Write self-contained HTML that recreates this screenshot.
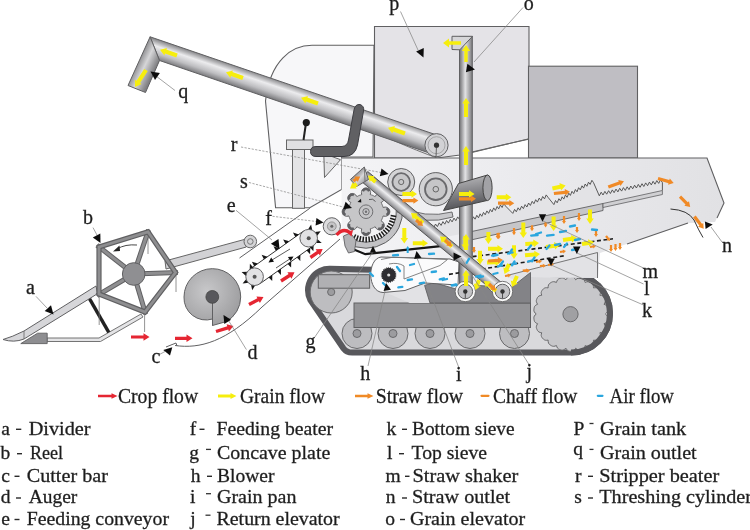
<!DOCTYPE html>
<html><head><meta charset="utf-8">
<style>
html,body{margin:0;padding:0;background:#fff;}
svg{display:block;}
text{font-family:"Liberation Serif",serif;fill:#1e1e1e;}
.tx{filter:url(#soft);}
</style></head>
<body>
<svg width="750" height="530" viewBox="0 0 750 530">
<defs>
<linearGradient id="gv" x1="0" y1="0" x2="1" y2="0">
<stop offset="0" stop-color="#6e6e70"/><stop offset="0.5" stop-color="#e6e6e8"/><stop offset="1" stop-color="#727274"/></linearGradient>
<linearGradient id="gd" gradientUnits="userSpaceOnUse" x1="436" y1="228" x2="445" y2="219">
<stop offset="0" stop-color="#6e6e70"/><stop offset="0.5" stop-color="#e0e0e2"/><stop offset="1" stop-color="#727274"/></linearGradient>
<linearGradient id="gdef" gradientUnits="userSpaceOnUse" x1="470" y1="212" x2="462" y2="180">
<stop offset="0" stop-color="#5e5e62"/><stop offset="0.5" stop-color="#a8a8ab"/><stop offset="1" stop-color="#6a6a6e"/></linearGradient>
<linearGradient id="gbody" gradientUnits="userSpaceOnUse" x1="340" y1="0" x2="725" y2="0">
<stop offset="0" stop-color="#f4f4f6"/><stop offset="0.35" stop-color="#ededf0"/><stop offset="1" stop-color="#e1e1e4"/></linearGradient>
<radialGradient id="gaug" cx="0.4" cy="0.4" r="0.7">
<stop offset="0" stop-color="#c8c8ca"/><stop offset="1" stop-color="#9a9a9c"/></radialGradient>
<filter id="soft" x="-5%" y="-5%" width="110%" height="110%"><feGaussianBlur stdDeviation="0.3"/></filter>
<filter id="allsoft" x="0" y="0" width="100%" height="100%" filterUnits="userSpaceOnUse"><feGaussianBlur stdDeviation="0.5"/></filter>
<linearGradient id="gq" gradientUnits="userSpaceOnUse" x1="150.1" y1="36.8" x2="143.9" y2="55.2"><stop offset="0" stop-color="#828285"/><stop offset="0.35" stop-color="#ececee"/><stop offset="0.72" stop-color="#bebec1"/><stop offset="1" stop-color="#7e7e81"/></linearGradient>
<linearGradient id="gqe" gradientUnits="userSpaceOnUse" x1="133" y1="66" x2="152" y2="75"><stop offset="0" stop-color="#747477"/><stop offset="0.5" stop-color="#d6d6d8"/><stop offset="1" stop-color="#808083"/></linearGradient>
<linearGradient id="gvo" x1="0" y1="0" x2="1" y2="0"><stop offset="0" stop-color="#707073"/><stop offset="0.45" stop-color="#e2e2e4"/><stop offset="1" stop-color="#7a7a7d"/></linearGradient>
</defs>
<g filter="url(#allsoft)">
<!-- ============ CAB ============ -->
<path d="M374 45.3 L312 45.3 C292 45.3 270 60 265.5 101 L275.6 207.8 L309.8 207.8 L341.6 189.5 L341.6 157 L373 157 Z" fill="#f7f7f9" stroke="#606062" stroke-width="1.1"/>
<!-- console -->
<rect x="292.5" y="149.5" width="12" height="58.8" fill="#e4e4e6" stroke="#666" stroke-width="1"/>
<rect x="286.5" y="140" width="26.5" height="9.5" fill="#e0e0e2" stroke="#666" stroke-width="1"/>
<line x1="306" y1="123" x2="303.5" y2="140" stroke="#222" stroke-width="2"/>
<circle cx="306.3" cy="122.6" r="3.6" fill="#1a1a1a"/>

<!-- ============ GRAIN TANK & ENGINE ============ -->
<path d="M374.5 26.5 L529 26.5 L529 139 L472 152 L460 155 L437 158 L374.5 158 Z" fill="#e4e3e7" stroke="#606062" stroke-width="1.1"/>
<path d="M472 152.5 L528 139" stroke="#666" stroke-width="1" fill="none"/>
<rect x="528.5" y="66.2" width="109" height="91.8" fill="#bfbec3" stroke="#606062" stroke-width="1.1"/>




<path d="M390 139 Q420 152 436 157.5" fill="none" stroke="#666" stroke-width="0.9"/>
<path d="M150.1 36.8 L439.6 136 L433.4 154.4 L159.5 60.5 Z" fill="url(#gq)" stroke="#606062" stroke-width="1"/>
<path d="M150.1 36.8 L159.5 60.5 L145.5 92.5 L128 85.5 Z" fill="url(#gqe)" stroke="#606062" stroke-width="1"/>
<circle cx="436.5" cy="145.2" r="11.6" fill="#d2d2d5" stroke="#606062" stroke-width="1"/>
<circle cx="436.5" cy="145.2" r="8.5" fill="none" stroke="#9a9a9c" stroke-width="0.8"/>
<line x1="436.5" y1="145.2" x2="436" y2="157.5" stroke="#444" stroke-width="0.8"/>
<circle cx="436.5" cy="145.2" r="2.6" fill="#333"/>
<path d="M144.2 68.9 L136.5 80.8 L134.9 79.8 L135 87 L141.6 84.1 L140 83.1 L147.8 71.1 Z" fill="#f6ee10"/>
<path d="M177.7 53.5 L166.4 49.6 L167 47.9 L160 49.7 L164.4 55.4 L165 53.6 L176.3 57.5 Z" fill="#f6ee10"/>
<path d="M243.7 76 L232.4 72.1 L233 70.4 L226 72.2 L230.4 77.9 L231 76.1 L242.3 80 Z" fill="#f6ee10"/>
<path d="M318.7 101.5 L307.4 97.6 L308 95.9 L301 97.7 L305.4 103.4 L306 101.6 L317.3 105.5 Z" fill="#f6ee10"/>
<path d="M405.7 131.5 L394.4 127.6 L395 125.9 L388 127.7 L392.4 133.4 L393 131.6 L404.3 135.5 Z" fill="#f6ee10"/>
<!-- seat -->
<path d="M323.8 153.5 L340.5 159.7 L324.5 177.5 Z" fill="#e2e2e4" stroke="#666" stroke-width="1"/>
<path d="M354 110 Q355 104 360 104.5 Q364.5 106 363.5 111 L357.5 145 Q355 156.5 344 156.5 L316 156.5 Q310.5 156.5 310.5 151.5 Q310.5 146.5 316 146.5 L342 146.5 Q347.5 146 348.5 140 Z" fill="#606064" stroke="#3e3e42" stroke-width="1"/>


<!-- ============ HEADER ============ -->
<!-- reel arm -->
<path d="M165 261 L244.6 239.4 L246.3 247 L166 269 Z" fill="#d2d2d5" stroke="#666" stroke-width="1"/>
<circle cx="250.3" cy="241.5" r="6.3" fill="#d4d4d6" stroke="#666" stroke-width="1"/>
<circle cx="250.3" cy="241.5" r="2.8" fill="none" stroke="#777" stroke-width="1"/>
<!-- header floor bar -->
<path d="M47 338 L99 338 L141 314 L143 317 L100.5 341.5 L47 341.5 Z" fill="#e4e4e6" stroke="#666" stroke-width="0.9"/>
<!-- divider -->
<path d="M3 339.5 Q12 337 24 331 L96 286 L97.5 293.7 L24 339 Q14 343 3 339.5 Z" fill="#d6d6d9" stroke="#606062" stroke-width="1"/>
<line x1="24" y1="331" x2="24" y2="339" stroke="#666" stroke-width="0.8"/>
<path d="M37.6 333.2 L47.2 333.2 L47.2 343.6 L20.8 343.6 Z" fill="#8e8e91" stroke="#606062" stroke-width="0.9"/>
<line x1="89.6" y1="298.8" x2="108.8" y2="332.4" stroke="#222" stroke-width="3.4"/>
<!-- tines -->
<g stroke="#777" stroke-width="0.8">
<line x1="99.2" y1="296" x2="99.2" y2="325"/>
<line x1="148" y1="232" x2="148" y2="254"/>
<line x1="176" y1="273" x2="176" y2="292"/>
<line x1="144.6" y1="314" x2="144.6" y2="332"/>
</g>
<!-- reel spokes -->
<g stroke="#606062" stroke-width="5" stroke-linecap="butt">
<line x1="133.7" y1="274" x2="97" y2="245.3"/><line x1="133.7" y1="274" x2="148.6" y2="229.9"/><line x1="133.7" y1="274" x2="177.8" y2="272.5"/><line x1="133.7" y1="274" x2="145.7" y2="314.1"/><line x1="133.7" y1="274" x2="97" y2="295.6"/>
</g>
<g stroke="#8e8e90" stroke-width="3" stroke-linecap="butt">
<line x1="133.7" y1="274" x2="97" y2="245.3"/><line x1="133.7" y1="274" x2="148.6" y2="229.9"/><line x1="133.7" y1="274" x2="177.8" y2="272.5"/><line x1="133.7" y1="274" x2="145.7" y2="314.1"/><line x1="133.7" y1="274" x2="97" y2="295.6"/>
</g>
<path d="M99 247 L148 231.8 L175.5 272.5 L145 312 L99 294 Z" fill="none" stroke="#606062" stroke-width="5.2" stroke-linejoin="miter"/>
<path d="M99 247 L148 231.8 L175.5 272.5 L145 312 L99 294 Z" fill="none" stroke="#8e8e90" stroke-width="2.8" stroke-linejoin="miter"/>
<circle cx="133.7" cy="274" r="11.3" fill="#8f8f92" stroke="#606062" stroke-width="1"/>
<path d="M137 245 Q125 244 117 249" fill="none" stroke="#333" stroke-width="0.9"/>
<path d="M113 251.5 L119.5 245.5 L120 251 Z" fill="#222"/>
<!-- auger -->
<path d="M212.5 319 A22 22 0 0 1 184 297 A28.3 28.3 0 0 1 240.7 297 A28.3 28.3 0 0 1 226.5 321.5 L212.5 325.5 Z" fill="url(#gaug)" stroke="#606062" stroke-width="1"/>
<line x1="212.5" y1="297" x2="212.5" y2="325.5" stroke="#606062" stroke-width="1"/>
<circle cx="212.3" cy="296.9" r="6.4" fill="#59595c" stroke="#444" stroke-width="0.8"/>
<!-- header floor curve -->
<path d="M175 345.5 C200 349 226 342 262 307 L340 239" fill="none" stroke="#606062" stroke-width="1"/>
<path d="M166 347 L176 343 L177 346" fill="none" stroke="#606062" stroke-width="1"/>


<line x1="239.5" y1="258" x2="309.8" y2="208.3" stroke="#606062" stroke-width="1"/>
<line x1="249.5" y1="269.5" x2="303.6" y2="231.0" stroke="#333" stroke-width="1"/>
<line x1="259.7" y1="283.9" x2="313.8" y2="245.4" stroke="#333" stroke-width="1"/>
<path d="M254.2 266.2 L251.9 261.7 L257.8 263.6 Z" fill="#151515"/>
<path d="M263.9 259.3 L261.6 254.8 L267.5 256.7 Z" fill="#151515"/>
<path d="M275.8 250.8 L273.5 246.3 L279.4 248.2 Z" fill="#151515"/>
<path d="M285.6 243.9 L283.2 239.4 L289.2 241.3 Z" fill="#151515"/>
<path d="M295.3 236.9 L293 232.4 L298.9 234.4 Z" fill="#151515"/>
<path d="M268.7 277.4 L272.2 281.1 L272.3 274.9 Z" fill="#151515"/>
<path d="M277.4 271.3 L280.9 275 L281 268.7 Z" fill="#151515"/>
<path d="M287.7 264 L291.1 267.6 L291.2 261.4 Z" fill="#151515"/>
<path d="M296.9 257.4 L300.3 261.1 L300.4 254.9 Z" fill="#151515"/>
<path d="M306.6 250.5 L310.1 254.2 L310.2 247.9 Z" fill="#151515"/>
<path d="M246.3 278.9 L242.6 283.6 L248.5 282.8 Z" fill="#151515"/>
<path d="M247.6 271.8 L241.6 272 L246 275.9 Z" fill="#151515"/>
<path d="M253.8 268.1 L249.9 263.7 L249.7 269.7 Z" fill="#151515"/>
<path d="M251 284.5 L252.2 290.3 L255.3 285.3 Z" fill="#151515"/>
<path d="M312.3 230.4 L311.1 224.6 L308 229.6 Z" fill="#151515"/>
<path d="M317 236 L320.7 231.3 L314.8 232.1 Z" fill="#151515"/>
<path d="M315.7 243.1 L321.7 242.9 L317.3 239 Z" fill="#151515"/>
<path d="M309.5 246.8 L313.4 251.2 L313.6 245.2 Z" fill="#151515"/>
<circle cx="254.6" cy="276.7" r="8.8" fill="#e2e2e4" stroke="#606062" stroke-width="1"/>
<circle cx="254.6" cy="276.7" r="2" fill="#555"/>
<circle cx="308.7" cy="238.2" r="8.8" fill="#e2e2e4" stroke="#606062" stroke-width="1"/>
<circle cx="308.7" cy="238.2" r="2" fill="#555"/>
<line x1="272" y1="260" x2="290" y2="249" stroke="#333" stroke-width="0.8"/>
<path d="M268.5 262.5 L271.2 257.6 L274 261.8 Z" fill="#111"/>
<line x1="276" y1="268" x2="292" y2="257.5" stroke="#333" stroke-width="0.8"/>
<path d="M293.5 256.5 L290.7 261.3 L287.9 257.1 Z" fill="#111"/>
<circle cx="331.8" cy="226.3" r="8.6" fill="#dcdcde" stroke="#606062" stroke-width="1"/>
<circle cx="331.8" cy="226.3" r="4.4" fill="#c4c4c6" stroke="#888" stroke-width="0.8"/>
<circle cx="331.8" cy="226.3" r="1.5" fill="#666"/>
<!-- ============ TRACKS ============ -->
<path d="M330 268.8 L571 274.5 A39 39 0 0 1 571 352.5 L352 352.5 Q346.5 352.5 343.5 348.5 L310.3 300 A21.5 21.5 0 0 1 330 268.8 Z" fill="#d9d9dc" stroke="#58585c" stroke-width="6"/>
<g fill="#bdbdc0" stroke="#6a6a6c" stroke-width="1">
<circle cx="331.2" cy="292" r="21"/>
<circle cx="357" cy="333.5" r="15"/><circle cx="393" cy="333.5" r="15"/><circle cx="430" cy="333.5" r="15"/><circle cx="470" cy="333.5" r="15"/><circle cx="514.5" cy="333.5" r="15"/>
</g>
<g fill="#9c9c9f" stroke="#6a6a6c" stroke-width="1">
<circle cx="331.2" cy="292" r="3.6"/>
<circle cx="357" cy="333.5" r="4"/><circle cx="393" cy="333.5" r="4"/><circle cx="430" cy="333.5" r="4"/><circle cx="470" cy="333.5" r="4"/><circle cx="514.5" cy="333.5" r="4"/>
</g>
<rect x="318.3" y="274.7" width="51.3" height="13.5" fill="#b0b0b3" stroke="#606062" stroke-width="1"/>
<rect x="354" y="303" width="176.5" height="24.5" fill="#949497" stroke="#606062" stroke-width="1"/>
<path fill="#c7c7ca" stroke="#6a6a6c" stroke-width="1" d="M605.4 314.0 L606.5 315.0 L607.3 316.1 L607.7 317.2 L607.7 318.2 L607.6 319.3 L607.4 320.3 L607.1 321.4 L606.4 322.3 L605.4 323.1 L604.0 323.7 L604.8 325.1 L605.2 326.3 L605.3 327.4 L605.0 328.5 L604.6 329.5 L604.2 330.4 L603.5 331.3 L602.6 332.0 L601.4 332.5 L599.9 332.7 L600.3 334.2 L600.4 335.5 L600.1 336.6 L599.6 337.5 L598.9 338.4 L598.2 339.1 L597.3 339.8 L596.3 340.2 L595.0 340.3 L593.5 340.1 L593.4 341.7 L593.1 343.0 L592.6 343.9 L591.8 344.7 L590.9 345.3 L590.0 345.8 L589.0 346.2 L587.9 346.3 L586.6 346.1 L585.2 345.5 L584.7 346.9 L584.1 348.1 L583.2 348.9 L582.3 349.4 L581.3 349.7 L580.3 350.0 L579.2 350.1 L578.1 349.8 L576.9 349.2 L575.7 348.2 L574.9 349.5 L573.9 350.4 L572.9 351.0 L571.9 351.2 L570.8 351.2 L569.7 351.2 L568.7 351.0 L567.7 350.4 L566.7 349.5 L565.9 348.2 L564.7 349.2 L563.5 349.8 L562.4 350.1 L561.3 350.0 L560.3 349.7 L559.3 349.4 L558.4 348.9 L557.5 348.1 L556.9 346.9 L556.4 345.5 L555.0 346.1 L553.7 346.3 L552.6 346.2 L551.6 345.8 L550.7 345.3 L549.8 344.7 L549.0 343.9 L548.5 343.0 L548.2 341.7 L548.1 340.1 L546.6 340.3 L545.3 340.2 L544.3 339.8 L543.4 339.1 L542.7 338.4 L542.0 337.5 L541.5 336.6 L541.2 335.5 L541.3 334.2 L541.7 332.7 L540.2 332.5 L539.0 332.0 L538.1 331.3 L537.4 330.4 L537.0 329.5 L536.6 328.5 L536.3 327.4 L536.4 326.3 L536.8 325.1 L537.6 323.7 L536.2 323.1 L535.2 322.3 L534.5 321.4 L534.2 320.3 L534.0 319.3 L533.9 318.2 L533.9 317.2 L534.3 316.1 L535.1 315.0 L536.2 314.0 L535.1 313.0 L534.3 311.9 L533.9 310.8 L533.9 309.8 L534.0 308.7 L534.2 307.7 L534.5 306.6 L535.2 305.7 L536.2 304.9 L537.6 304.3 L536.8 302.9 L536.4 301.7 L536.3 300.6 L536.6 299.5 L537.0 298.5 L537.4 297.6 L538.1 296.7 L539.0 296.0 L540.2 295.5 L541.7 295.3 L541.3 293.8 L541.2 292.5 L541.5 291.4 L542.0 290.5 L542.7 289.6 L543.4 288.9 L544.3 288.2 L545.3 287.8 L546.6 287.7 L548.1 287.9 L548.2 286.3 L548.5 285.0 L549.0 284.1 L549.8 283.3 L550.7 282.7 L551.6 282.2 L552.6 281.8 L553.7 281.7 L555.0 281.9 L556.4 282.5 L556.9 281.1 L557.5 279.9 L558.4 279.1 L559.3 278.6 L560.3 278.3 L561.3 278.0 L562.4 277.9 L563.5 278.2 L564.7 278.8 L565.9 279.8 L566.7 278.5 L567.7 277.6 L568.7 277.0 L569.7 276.8 L570.8 276.8 L571.9 276.8 L572.9 277.0 L573.9 277.6 L574.9 278.5 L575.7 279.8 L576.9 278.8 L578.1 278.2 L579.2 277.9 L580.3 278.0 L581.3 278.3 L582.3 278.6 L583.2 279.1 L584.1 279.9 L584.7 281.1 L585.2 282.5 L586.6 281.9 L587.9 281.7 L589.0 281.8 L590.0 282.2 L590.9 282.7 L591.8 283.3 L592.6 284.1 L593.1 285.0 L593.4 286.3 L593.5 287.9 L595.0 287.7 L596.3 287.8 L597.3 288.2 L598.2 288.9 L598.9 289.6 L599.6 290.5 L600.1 291.4 L600.4 292.5 L600.3 293.8 L599.9 295.3 L601.4 295.5 L602.6 296.0 L603.5 296.7 L604.2 297.6 L604.6 298.5 L605.0 299.5 L605.3 300.6 L605.2 301.7 L604.8 302.9 L604.0 304.3 L605.4 304.9 L606.4 305.7 L607.1 306.6 L607.4 307.7 L607.6 308.7 L607.7 309.8 L607.7 310.8 L607.3 311.9 L606.5 313.0 Z"/>
<path d="M571 274.5 A39 39 0 0 1 571 352.5" fill="none" stroke="#58585c" stroke-width="6"/>
<circle cx="570.5" cy="314.2" r="7.6" fill="#a0a0a3" stroke="#6a6a6c" stroke-width="1"/>


<!-- ============ MAIN BODY ============ -->
<path d="M341.6 158 L707 158 L724 203 L715 222 L689 223 L600 253 L598 278 L530.5 277 L530.5 303 L410 303 L400 292 L375 262 L341.6 240 Z" fill="url(#gbody)" stroke="none"/>
<path d="M341.6 158 L707 158 L724 203 L717 218 M688 223 L627 244" fill="none" stroke="#606062" stroke-width="1.1"/>

<path d="M430 229 L431.8 225.2 L433.7 227.8 L435.5 224 L437.4 226.6 L439.2 222.8 L441.1 225.4 L442.9 221.6 L444.8 224.2 L446.6 220.5 L448.4 223.1 L450.3 219.3 L452.1 221.9 L454 218.1 L455.8 220.7 L457.7 216.9 L459.5 219.5 L471.7 220.7 L473.4 216.8 L475.1 219.2 L476.8 215.3 L478.5 217.8 L480.1 213.8 L481.8 216.3 L483.5 212.4 L485.2 214.8 L486.9 210.9 L488.6 213.3 L490.3 209.4 L492 211.9 L493.7 207.9 L495.4 210.4 L497.1 206.5 L498.7 208.9 L500.4 205 L502.1 207.5 L503.8 203.5 L505.5 206 L512.8 213.4 L514.6 209.4 L516.3 211.8 L518.1 207.8 L519.8 210.2 L521.6 206.2 L523.4 208.6 L525.1 204.6 L526.9 207 L528.6 203 L530.4 205.4 L532.2 201.3 L533.9 203.7 L535.7 199.7 L537.4 202.1 L539.2 198.1 L541 200.5 L542.7 196.5 L544.5 198.9 L546.2 194.9 L548 197.3 L553.9 204.6 L555.5 200.5 L557.2 202.8 L558.9 198.7 L560.5 200.9 L562.1 196.8 L563.8 199.1 L565.4 195 L567.1 197.3 L568.8 193.2 L570.4 195.4 L572 191.3 L573.7 193.6 L575.4 189.5 L577 191.8 L578.6 187.7 L580.3 189.9 L582 185.8 L583.6 188.1 L585.2 184 L586.9 186.3 L588.5 182.2 L590.2 184.4 L591.9 180.3 L593.5 182.6 L599.3 195.8 L601.2 192.2 L603 195 L604.9 191.4 L606.7 194.2 L608.6 190.7 L610.4 193.5 L612.3 189.9 L614.1 192.7 L616 189.1 L617.9 191.9 L619.7 188.3 L621.6 191.1 L623.4 187.6 L625.3 190.4 L627.1 186.8 L629 189.6 L630.8 186 L632.7 188.8 L634.6 185.2 L636.4 188 L638.3 184.4 L640.1 187.3 L642 183.7 L643.8 186.5 L645.7 182.9 L647.6 185.7 L649.4 182.1 L651.3 184.9 L653.1 181.3 L655 184.2 L656.8 180.6 L658.7 183.4 L660.5 179.8 L662.4 182.6 L662.4 190.5 L662.4 193 L471.7 232 L430 240 Z" fill="#e3e3e6" stroke="none"/>
<path d="M430.0 229.0 L431.8 225.2 L433.7 227.8 L435.5 224.0 L437.4 226.6 L439.2 222.8 L441.1 225.4 L442.9 221.6 L444.8 224.2 L446.6 220.5 L448.4 223.1 L450.3 219.3 L452.1 221.9 L454.0 218.1 L455.8 220.7 L457.7 216.9 L459.5 219.5 L471.7 220.7 L473.4 216.8 L475.1 219.2 L476.8 215.3 L478.5 217.8 L480.1 213.8 L481.8 216.3 L483.5 212.4 L485.2 214.8 L486.9 210.9 L488.6 213.3 L490.3 209.4 L492.0 211.9 L493.7 207.9 L495.4 210.4 L497.1 206.5 L498.7 208.9 L500.4 205.0 L502.1 207.5 L503.8 203.5 L505.5 206.0 L512.8 213.4 L514.6 209.4 L516.3 211.8 L518.1 207.8 L519.8 210.2 L521.6 206.2 L523.4 208.6 L525.1 204.6 L526.9 207.0 L528.6 203.0 L530.4 205.4 L532.2 201.3 L533.9 203.7 L535.7 199.7 L537.4 202.1 L539.2 198.1 L541.0 200.5 L542.7 196.5 L544.5 198.9 L546.2 194.9 L548.0 197.3 L553.9 204.6 L555.5 200.5 L557.2 202.8 L558.9 198.7 L560.5 200.9 L562.1 196.8 L563.8 199.1 L565.4 195.0 L567.1 197.3 L568.8 193.2 L570.4 195.4 L572.0 191.3 L573.7 193.6 L575.4 189.5 L577.0 191.8 L578.6 187.7 L580.3 189.9 L582.0 185.8 L583.6 188.1 L585.2 184.0 L586.9 186.3 L588.5 182.2 L590.2 184.4 L591.9 180.3 L593.5 182.6 L599.3 195.8 L601.2 192.2 L603.0 195.0 L604.9 191.4 L606.7 194.2 L608.6 190.7 L610.4 193.5 L612.3 189.9 L614.1 192.7 L616.0 189.1 L617.9 191.9 L619.7 188.3 L621.6 191.1 L623.4 187.6 L625.3 190.4 L627.1 186.8 L629.0 189.6 L630.8 186.0 L632.7 188.8 L634.6 185.2 L636.4 188.0 L638.3 184.4 L640.1 187.3 L642.0 183.7 L643.8 186.5 L645.7 182.9 L647.6 185.7 L649.4 182.1 L651.3 184.9 L653.1 181.3 L655.0 184.2 L656.8 180.6 L658.7 183.4 L660.5 179.8 L662.4 182.6 L662.4 190.5" fill="none" stroke="#4a4a4a" stroke-width="0.9"/>
<path d="M471.7 231.5 L603 203.5 L603 210.5 L471.7 239.8 Z" fill="#c6c6c9" stroke="#606062" stroke-width="0.9"/>
<path d="M603 203.5 L662.4 190.5 L662.4 194.5 L603 207.5 Z" fill="#d0d0d3" stroke="#606062" stroke-width="0.8"/>
<path d="M670.5 209 Q688 210 694 220 Q699 231 703 237.5" fill="none" stroke="#333" stroke-width="1"/>
<path d="M380 290 L426 283 L432 303 L410 303 Z" fill="#e2e2e5" stroke="none"/>
<path d="M505 276.5 L597.5 252.5 L598 278 L530.5 277 L530.5 285 Z" fill="#e2e2e5" stroke="none"/>
<path d="M424.6 285.4 L434.2 282.6 L456 289 L462 301 L472 290 L479 285.5 L486 286 L499 299 L512 287 L530.5 272.5 L530.5 303 L430 303 Z" fill="#838387" stroke="#606062" stroke-width="0.9"/>
<path d="M381 257 C367 259 367 292 383 292.5 L405 290.5 L425 283 L458 285 L459 262 L450 259 Z" fill="#fbfbfc" stroke="#606062" stroke-width="1"/>
<path d="M381 259.5 Q392 256 405 257.5 L447.5 259.5 L440 265.5 L404 279 L404 266 Q398 262 389 264" fill="none" stroke="#777" stroke-width="0.9"/>
<path d="M396.9 275 L395.7 275.6 L395.6 276.2 L396.6 277.1 L395.3 277.4 L395 278 L395.8 279.1 L394.4 279 L394.1 279.5 L394.5 280.8 L393.2 280.4 L392.7 280.7 L392.8 282.1 L391.7 281.3 L391.1 281.6 L390.8 282.9 L389.9 281.9 L389.3 282 L388.7 283.2 L388.1 282 L387.5 281.9 L386.6 282.9 L386.3 281.6 L385.7 281.3 L384.6 282.1 L384.7 280.7 L384.2 280.4 L382.9 280.8 L383.3 279.5 L383 279 L381.6 279.1 L382.4 278 L382.1 277.4 L380.8 277.1 L381.8 276.2 L381.7 275.6 L380.5 275 L381.7 274.4 L381.8 273.8 L380.8 272.9 L382.1 272.6 L382.4 272 L381.6 270.9 L383 271 L383.3 270.5 L382.9 269.2 L384.2 269.6 L384.7 269.3 L384.6 267.9 L385.7 268.7 L386.3 268.4 L386.6 267.1 L387.5 268.1 L388.1 268 L388.7 266.8 L389.3 268 L389.9 268.1 L390.8 267.1 L391.1 268.4 L391.7 268.7 L392.8 267.9 L392.7 269.3 L393.2 269.6 L394.5 269.2 L394.1 270.5 L394.4 271 L395.8 270.9 L395 272 L395.3 272.6 L396.6 272.9 L395.6 273.8 L395.7 274.4 Z" fill="#2e2e30"/>
<circle cx="388.7" cy="275" r="1.6" fill="#ddd"/>
<path d="M505 276 L597.5 252.5 L597.5 278" fill="none" stroke="#666" stroke-width="0.9"/>
<line x1="466" y1="257.5" x2="613" y2="238.8" stroke="#1a1a1a" stroke-width="1.6" stroke-dasharray="4 2.6"/>
<line x1="449" y1="274.4" x2="566" y2="255.5" stroke="#1a1a1a" stroke-width="1.6" stroke-dasharray="4 2.6"/>
<path d="M353.9 249.4 L365.3 254.2 L443 245.9" fill="none" stroke="#141414" stroke-width="2.2"/>
<path d="M402.3 207.9 A36.5 36.5 0 0 1 346.7 242.7 L349.8 237.6 A30.5 30.5 0 0 0 396.3 208.5 Z" fill="#c2c2c5" stroke="#606062" stroke-width="1"/>
<line x1="390.7" y1="215.6" x2="396.1" y2="216.5" stroke="#1a1a1a" stroke-width="1.5"/>
<line x1="390.1" y1="218.3" x2="395.4" y2="219.7" stroke="#1a1a1a" stroke-width="1.5"/>
<line x1="389.3" y1="220.8" x2="394.4" y2="222.8" stroke="#1a1a1a" stroke-width="1.5"/>
<line x1="388.2" y1="223.3" x2="393.0" y2="225.8" stroke="#1a1a1a" stroke-width="1.5"/>
<line x1="386.8" y1="225.6" x2="391.3" y2="228.7" stroke="#1a1a1a" stroke-width="1.5"/>
<line x1="385.2" y1="227.8" x2="389.4" y2="231.3" stroke="#1a1a1a" stroke-width="1.5"/>
<line x1="383.3" y1="229.7" x2="387.1" y2="233.7" stroke="#1a1a1a" stroke-width="1.5"/>
<line x1="381.3" y1="231.5" x2="384.6" y2="235.9" stroke="#1a1a1a" stroke-width="1.5"/>
<line x1="379.0" y1="233.0" x2="381.9" y2="237.7" stroke="#1a1a1a" stroke-width="1.5"/>
<line x1="376.6" y1="234.3" x2="379.0" y2="239.3" stroke="#1a1a1a" stroke-width="1.5"/>
<line x1="374.1" y1="235.3" x2="375.9" y2="240.5" stroke="#1a1a1a" stroke-width="1.5"/>
<line x1="371.5" y1="236.1" x2="372.8" y2="241.4" stroke="#1a1a1a" stroke-width="1.5"/>
<line x1="368.9" y1="236.5" x2="369.5" y2="242.0" stroke="#1a1a1a" stroke-width="1.5"/>
<line x1="366.2" y1="236.7" x2="366.2" y2="242.2" stroke="#1a1a1a" stroke-width="1.5"/>
<line x1="363.5" y1="236.6" x2="362.9" y2="242.0" stroke="#1a1a1a" stroke-width="1.5"/>
<line x1="360.8" y1="236.2" x2="359.7" y2="241.5" stroke="#1a1a1a" stroke-width="1.5"/>
<line x1="358.2" y1="235.4" x2="356.5" y2="240.7" stroke="#1a1a1a" stroke-width="1.5"/>
<line x1="355.7" y1="234.5" x2="353.4" y2="239.5" stroke="#1a1a1a" stroke-width="1.5"/>
<path d="M343.5 236 L350.5 233 L356 240.5 L354.5 251.5 L348.5 253 L345 246 Z" fill="#b4b4b7" stroke="#606062" stroke-width="0.9"/>
<path d="M389.8 211.7 L389.8 211.9 L389.8 212.1 L389.8 212.3 L389.7 212.5 L389.7 212.7 L389.6 212.9 L389.6 213.1 L389.5 213.3 L389.4 213.5 L389.3 213.7 L389.2 213.9 L389.1 214.1 L389.0 214.3 L388.8 214.5 L388.7 214.7 L388.5 214.9 L388.4 215.0 L388.2 215.2 L388.0 215.4 L387.7 215.5 L387.5 215.7 L387.2 215.8 L386.9 216.0 L386.6 216.1 L386.2 216.2 L385.8 216.3 L385.2 216.3 L383.1 216.0 L383.0 216.1 L383.0 216.3 L383.0 216.4 L382.9 216.6 L382.9 216.7 L382.8 216.8 L382.8 217.0 L382.7 217.1 L382.7 217.3 L382.6 217.4 L382.6 217.6 L382.5 217.7 L382.5 217.9 L382.4 218.0 L382.4 218.2 L382.3 218.3 L382.3 218.4 L382.2 218.6 L382.1 218.7 L382.1 218.9 L382.0 219.0 L382.0 219.1 L381.9 219.3 L381.8 219.4 L381.8 219.6 L381.7 219.7 L381.6 219.8 L381.5 220.0 L381.5 220.1 L381.4 220.2 L381.3 220.4 L381.2 220.5 L381.2 220.6 L381.1 220.8 L382.8 222.0 L383.2 222.5 L383.5 222.8 L383.7 223.2 L383.8 223.5 L383.9 223.8 L384.0 224.1 L384.1 224.4 L384.1 224.6 L384.2 224.9 L384.2 225.1 L384.2 225.4 L384.2 225.6 L384.1 225.9 L384.1 226.1 L384.1 226.3 L384.0 226.5 L383.9 226.7 L383.9 227.0 L383.8 227.2 L383.7 227.3 L383.6 227.5 L383.5 227.7 L383.4 227.9 L383.2 228.1 L383.1 228.2 L383.0 228.4 L382.8 228.5 L382.7 228.7 L382.5 228.8 L382.4 228.9 L382.2 229.1 L382.0 229.2 L381.8 229.3 L381.6 229.4 L381.5 229.5 L381.3 229.6 L381.0 229.6 L380.8 229.7 L380.6 229.8 L380.4 229.8 L380.2 229.8 L379.9 229.9 L379.7 229.9 L379.4 229.9 L379.2 229.9 L378.9 229.8 L378.7 229.8 L378.4 229.7 L378.1 229.6 L377.8 229.5 L377.5 229.4 L377.1 229.2 L376.8 228.9 L376.3 228.5 L375.1 226.8 L374.9 226.9 L374.8 226.9 L374.7 227.0 L374.5 227.1 L374.4 227.2 L374.3 227.2 L374.1 227.3 L374.0 227.4 L373.9 227.5 L373.7 227.5 L373.6 227.6 L373.4 227.7 L373.3 227.7 L373.2 227.8 L373.0 227.8 L372.9 227.9 L372.7 228.0 L372.6 228.0 L372.5 228.1 L372.3 228.1 L372.2 228.2 L372.0 228.2 L371.9 228.3 L371.7 228.3 L371.6 228.4 L371.4 228.4 L371.3 228.5 L371.1 228.5 L371.0 228.6 L370.9 228.6 L370.7 228.7 L370.6 228.7 L370.4 228.7 L370.3 228.8 L370.6 230.9 L370.6 231.5 L370.5 231.9 L370.4 232.3 L370.3 232.6 L370.1 232.9 L370.0 233.2 L369.8 233.4 L369.7 233.7 L369.5 233.9 L369.3 234.1 L369.2 234.2 L369.0 234.4 L368.8 234.5 L368.6 234.7 L368.4 234.8 L368.2 234.9 L368.0 235.0 L367.8 235.1 L367.6 235.2 L367.4 235.3 L367.2 235.3 L367.0 235.4 L366.8 235.4 L366.6 235.5 L366.4 235.5 L366.2 235.5 L366.0 235.5 L365.8 235.5 L365.6 235.5 L365.4 235.5 L365.2 235.4 L365.0 235.4 L364.8 235.3 L364.6 235.3 L364.4 235.2 L364.2 235.1 L364.0 235.0 L363.8 234.9 L363.6 234.8 L363.4 234.7 L363.2 234.5 L363.0 234.4 L362.8 234.2 L362.7 234.1 L362.5 233.9 L362.3 233.7 L362.2 233.4 L362.0 233.2 L361.9 232.9 L361.7 232.6 L361.6 232.3 L361.5 231.9 L361.4 231.5 L361.4 230.9 L361.7 228.8 L361.6 228.7 L361.4 228.7 L361.3 228.7 L361.1 228.6 L361.0 228.6 L360.9 228.5 L360.7 228.5 L360.6 228.4 L360.4 228.4 L360.3 228.3 L360.1 228.3 L360.0 228.2 L359.8 228.2 L359.7 228.1 L359.5 228.1 L359.4 228.0 L359.3 228.0 L359.1 227.9 L359.0 227.8 L358.8 227.8 L358.7 227.7 L358.6 227.7 L358.4 227.6 L358.3 227.5 L358.1 227.5 L358.0 227.4 L357.9 227.3 L357.7 227.2 L357.6 227.2 L357.5 227.1 L357.3 227.0 L357.2 226.9 L357.1 226.9 L356.9 226.8 L355.7 228.5 L355.2 228.9 L354.9 229.2 L354.5 229.4 L354.2 229.5 L353.9 229.6 L353.6 229.7 L353.3 229.8 L353.1 229.8 L352.8 229.9 L352.6 229.9 L352.3 229.9 L352.1 229.9 L351.8 229.8 L351.6 229.8 L351.4 229.8 L351.2 229.7 L351.0 229.6 L350.7 229.6 L350.5 229.5 L350.4 229.4 L350.2 229.3 L350.0 229.2 L349.8 229.1 L349.6 228.9 L349.5 228.8 L349.3 228.7 L349.2 228.5 L349.0 228.4 L348.9 228.2 L348.8 228.1 L348.6 227.9 L348.5 227.7 L348.4 227.5 L348.3 227.3 L348.2 227.2 L348.1 227.0 L348.1 226.7 L348.0 226.5 L347.9 226.3 L347.9 226.1 L347.9 225.9 L347.8 225.6 L347.8 225.4 L347.8 225.1 L347.8 224.9 L347.9 224.6 L347.9 224.4 L348.0 224.1 L348.1 223.8 L348.2 223.5 L348.3 223.2 L348.5 222.8 L348.8 222.5 L349.2 222.0 L350.9 220.8 L350.8 220.6 L350.8 220.5 L350.7 220.4 L350.6 220.2 L350.5 220.1 L350.5 220.0 L350.4 219.8 L350.3 219.7 L350.2 219.6 L350.2 219.4 L350.1 219.3 L350.0 219.1 L350.0 219.0 L349.9 218.9 L349.9 218.7 L349.8 218.6 L349.7 218.4 L349.7 218.3 L349.6 218.2 L349.6 218.0 L349.5 217.9 L349.5 217.7 L349.4 217.6 L349.4 217.4 L349.3 217.3 L349.3 217.1 L349.2 217.0 L349.2 216.8 L349.1 216.7 L349.1 216.6 L349.0 216.4 L349.0 216.3 L349.0 216.1 L348.9 216.0 L346.8 216.3 L346.2 216.3 L345.8 216.2 L345.4 216.1 L345.1 216.0 L344.8 215.8 L344.5 215.7 L344.3 215.5 L344.0 215.4 L343.8 215.2 L343.6 215.0 L343.5 214.9 L343.3 214.7 L343.2 214.5 L343.0 214.3 L342.9 214.1 L342.8 213.9 L342.7 213.7 L342.6 213.5 L342.5 213.3 L342.4 213.1 L342.4 212.9 L342.3 212.7 L342.3 212.5 L342.2 212.3 L342.2 212.1 L342.2 211.9 L342.2 211.7 L342.2 211.5 L342.2 211.3 L342.2 211.1 L342.3 210.9 L342.3 210.7 L342.4 210.5 L342.4 210.3 L342.5 210.1 L342.6 209.9 L342.7 209.7 L342.8 209.5 L342.9 209.3 L343.0 209.1 L343.2 208.9 L343.3 208.7 L343.5 208.5 L343.6 208.4 L343.8 208.2 L344.0 208.0 L344.3 207.9 L344.5 207.7 L344.8 207.6 L345.1 207.4 L345.4 207.3 L345.8 207.2 L346.2 207.1 L346.8 207.1 L348.9 207.4 L349.0 207.3 L349.0 207.1 L349.0 207.0 L349.1 206.8 L349.1 206.7 L349.2 206.6 L349.2 206.4 L349.3 206.3 L349.3 206.1 L349.4 206.0 L349.4 205.8 L349.5 205.7 L349.5 205.5 L349.6 205.4 L349.6 205.2 L349.7 205.1 L349.7 205.0 L349.8 204.8 L349.9 204.7 L349.9 204.5 L350.0 204.4 L350.0 204.3 L350.1 204.1 L350.2 204.0 L350.2 203.8 L350.3 203.7 L350.4 203.6 L350.5 203.4 L350.5 203.3 L350.6 203.2 L350.7 203.0 L350.8 202.9 L350.8 202.8 L350.9 202.6 L349.2 201.4 L348.8 200.9 L348.5 200.6 L348.3 200.2 L348.2 199.9 L348.1 199.6 L348.0 199.3 L347.9 199.0 L347.9 198.8 L347.8 198.5 L347.8 198.3 L347.8 198.0 L347.8 197.8 L347.9 197.5 L347.9 197.3 L347.9 197.1 L348.0 196.9 L348.1 196.7 L348.1 196.4 L348.2 196.2 L348.3 196.1 L348.4 195.9 L348.5 195.7 L348.6 195.5 L348.8 195.3 L348.9 195.2 L349.0 195.0 L349.2 194.9 L349.3 194.7 L349.5 194.6 L349.6 194.5 L349.8 194.3 L350.0 194.2 L350.2 194.1 L350.4 194.0 L350.5 193.9 L350.7 193.8 L351.0 193.8 L351.2 193.7 L351.4 193.6 L351.6 193.6 L351.8 193.6 L352.1 193.5 L352.3 193.5 L352.6 193.5 L352.8 193.5 L353.1 193.6 L353.3 193.6 L353.6 193.7 L353.9 193.8 L354.2 193.9 L354.5 194.0 L354.9 194.2 L355.2 194.5 L355.7 194.9 L356.9 196.6 L357.1 196.5 L357.2 196.5 L357.3 196.4 L357.5 196.3 L357.6 196.2 L357.7 196.2 L357.9 196.1 L358.0 196.0 L358.1 195.9 L358.3 195.9 L358.4 195.8 L358.6 195.7 L358.7 195.7 L358.8 195.6 L359.0 195.6 L359.1 195.5 L359.3 195.4 L359.4 195.4 L359.5 195.3 L359.7 195.3 L359.8 195.2 L360.0 195.2 L360.1 195.1 L360.3 195.1 L360.4 195.0 L360.6 195.0 L360.7 194.9 L360.9 194.9 L361.0 194.8 L361.1 194.8 L361.3 194.7 L361.4 194.7 L361.6 194.7 L361.7 194.6 L361.4 192.5 L361.4 191.9 L361.5 191.5 L361.6 191.1 L361.7 190.8 L361.9 190.5 L362.0 190.2 L362.2 190.0 L362.3 189.7 L362.5 189.5 L362.7 189.3 L362.8 189.2 L363.0 189.0 L363.2 188.9 L363.4 188.7 L363.6 188.6 L363.8 188.5 L364.0 188.4 L364.2 188.3 L364.4 188.2 L364.6 188.1 L364.8 188.1 L365.0 188.0 L365.2 188.0 L365.4 187.9 L365.6 187.9 L365.8 187.9 L366.0 187.9 L366.2 187.9 L366.4 187.9 L366.6 187.9 L366.8 188.0 L367.0 188.0 L367.2 188.1 L367.4 188.1 L367.6 188.2 L367.8 188.3 L368.0 188.4 L368.2 188.5 L368.4 188.6 L368.6 188.7 L368.8 188.9 L369.0 189.0 L369.2 189.2 L369.3 189.3 L369.5 189.5 L369.7 189.7 L369.8 190.0 L370.0 190.2 L370.1 190.5 L370.3 190.8 L370.4 191.1 L370.5 191.5 L370.6 191.9 L370.6 192.5 L370.3 194.6 L370.4 194.7 L370.6 194.7 L370.7 194.7 L370.9 194.8 L371.0 194.8 L371.1 194.9 L371.3 194.9 L371.4 195.0 L371.6 195.0 L371.7 195.1 L371.9 195.1 L372.0 195.2 L372.2 195.2 L372.3 195.3 L372.5 195.3 L372.6 195.4 L372.7 195.4 L372.9 195.5 L373.0 195.6 L373.2 195.6 L373.3 195.7 L373.4 195.7 L373.6 195.8 L373.7 195.9 L373.9 195.9 L374.0 196.0 L374.1 196.1 L374.3 196.2 L374.4 196.2 L374.5 196.3 L374.7 196.4 L374.8 196.5 L374.9 196.5 L375.1 196.6 L376.3 194.9 L376.8 194.5 L377.1 194.2 L377.5 194.0 L377.8 193.9 L378.1 193.8 L378.4 193.7 L378.7 193.6 L378.9 193.6 L379.2 193.5 L379.4 193.5 L379.7 193.5 L379.9 193.5 L380.2 193.6 L380.4 193.6 L380.6 193.6 L380.8 193.7 L381.0 193.8 L381.3 193.8 L381.5 193.9 L381.6 194.0 L381.8 194.1 L382.0 194.2 L382.2 194.3 L382.4 194.5 L382.5 194.6 L382.7 194.7 L382.8 194.9 L383.0 195.0 L383.1 195.2 L383.2 195.3 L383.4 195.5 L383.5 195.7 L383.6 195.9 L383.7 196.1 L383.8 196.2 L383.9 196.4 L383.9 196.7 L384.0 196.9 L384.1 197.1 L384.1 197.3 L384.1 197.5 L384.2 197.8 L384.2 198.0 L384.2 198.3 L384.2 198.5 L384.1 198.8 L384.1 199.0 L384.0 199.3 L383.9 199.6 L383.8 199.9 L383.7 200.2 L383.5 200.6 L383.2 200.9 L382.8 201.4 L381.1 202.6 L381.2 202.8 L381.2 202.9 L381.3 203.0 L381.4 203.2 L381.5 203.3 L381.5 203.4 L381.6 203.6 L381.7 203.7 L381.8 203.8 L381.8 204.0 L381.9 204.1 L382.0 204.3 L382.0 204.4 L382.1 204.5 L382.1 204.7 L382.2 204.8 L382.3 205.0 L382.3 205.1 L382.4 205.2 L382.4 205.4 L382.5 205.5 L382.5 205.7 L382.6 205.8 L382.6 206.0 L382.7 206.1 L382.7 206.3 L382.8 206.4 L382.8 206.6 L382.9 206.7 L382.9 206.8 L383.0 207.0 L383.0 207.1 L383.0 207.3 L383.1 207.4 L385.2 207.1 L385.8 207.1 L386.2 207.2 L386.6 207.3 L386.9 207.4 L387.2 207.6 L387.5 207.7 L387.7 207.9 L388.0 208.0 L388.2 208.2 L388.4 208.4 L388.5 208.5 L388.7 208.7 L388.8 208.9 L389.0 209.1 L389.1 209.3 L389.2 209.5 L389.3 209.7 L389.4 209.9 L389.5 210.1 L389.6 210.3 L389.6 210.5 L389.7 210.7 L389.7 210.9 L389.8 211.1 L389.8 211.3 L389.8 211.5 Z" fill="#c6c6c8" stroke="#606062" stroke-width="1"/>
<path d="M362.8 191.3 A3.4 3.4 0 0 1 369.2 191.3" fill="none" stroke="#5e5e62" stroke-width="2.6"/>
<path d="M378.1 195.0 A3.4 3.4 0 0 1 382.7 199.6" fill="none" stroke="#5e5e62" stroke-width="2.6"/>
<path d="M386.4 208.5 A3.4 3.4 0 0 1 386.4 214.9" fill="none" stroke="#5e5e62" stroke-width="2.6"/>
<path d="M382.7 223.8 A3.4 3.4 0 0 1 378.1 228.4" fill="none" stroke="#5e5e62" stroke-width="2.6"/>
<path d="M369.2 232.1 A3.4 3.4 0 0 1 362.8 232.1" fill="none" stroke="#5e5e62" stroke-width="2.6"/>
<path d="M353.9 228.4 A3.4 3.4 0 0 1 349.3 223.8" fill="none" stroke="#5e5e62" stroke-width="2.6"/>
<path d="M345.6 214.9 A3.4 3.4 0 0 1 345.6 208.5" fill="none" stroke="#5e5e62" stroke-width="2.6"/>
<path d="M349.3 199.6 A3.4 3.4 0 0 1 353.9 195.0" fill="none" stroke="#5e5e62" stroke-width="2.6"/>
<circle cx="366" cy="211.7" r="6.8" fill="none" stroke="#707073" stroke-width="1"/>
<circle cx="366" cy="211.7" r="3.2" fill="none" stroke="#707073" stroke-width="1"/>
<circle cx="366" cy="211.7" r="1.2" fill="#707073"/>
<path d="M369 199.5 Q373 198 375.5 201.5" fill="none" stroke="#444" stroke-width="0.8"/>
<path d="M357.5 202 L361 198.8 L361.3 202.5 Z" fill="#111"/>
<rect x="459.5" y="36.5" width="12.8" height="256" fill="url(#gvo)" stroke="#606062" stroke-width="1"/>
<path d="M452 36.3 L472.5 36.3 L459.8 49.8 L452 49.5 Z" fill="#d6d6d8" stroke="#606062" stroke-width="1"/>
<path d="M461 41.2 L449 41.2 L449 38.5 L443 43 L449 47.5 L449 44.8 L461 44.8 Z" fill="#f6ee10"/>
<path d="M467.7 62 L467.7 51 L470.2 51 L466 45 L461.8 51 L464.3 51 L464.3 62 Z" fill="#f6ee10"/>
<path d="M399 206 Q425 219 452 212 L453 217 Q424 226 397 212 Z" fill="#c8c8cb" stroke="#606062" stroke-width="0.9"/>
<linearGradient id="gdf" gradientUnits="userSpaceOnUse" x1="466" y1="180" x2="470" y2="206"><stop offset="0" stop-color="#a9a9ac"/><stop offset="0.55" stop-color="#7c7c80"/><stop offset="1" stop-color="#58585c"/></linearGradient>
<path d="M443.5 210.5 L458.5 183.5 L487.5 175 L487 200.5 Z" fill="url(#gdf)" stroke="#444" stroke-width="1"/>
<ellipse cx="487.5" cy="187.8" rx="4.6" ry="12.8" fill="#a2a2a6" stroke="#444" stroke-width="1"/>
<circle cx="401.2" cy="182" r="13.5" fill="#d4d4d6" stroke="#606062" stroke-width="1"/>
<circle cx="401.2" cy="182" r="8.8" fill="#c8c8ca" stroke="#6a6a6d" stroke-width="1.8"/>
<circle cx="401.2" cy="182" r="2.6" fill="none" stroke="#666" stroke-width="1"/>
<circle cx="435.8" cy="189.2" r="16.6" fill="#d2d2d4" stroke="#606062" stroke-width="1"/>
<circle cx="435.8" cy="189.2" r="10.8" fill="#c6c6c8" stroke="#6a6a6d" stroke-width="1.8"/>
<circle cx="435.8" cy="189.2" r="2.8" fill="none" stroke="#666" stroke-width="1"/>
<linearGradient id="gj" gradientUnits="userSpaceOnUse" x1="367.7" y1="171.5" x2="360.3" y2="180.5"><stop offset="0" stop-color="#7e7e83"/><stop offset="0.45" stop-color="#eeeef0"/><stop offset="1" stop-color="#88888c"/></linearGradient>
<path d="M367.7 171.5 L506.2 286.5 L498.8 295.5 L360.3 180.5 Z" fill="url(#gj)" stroke="#555" stroke-width="1"/>
<linearGradient id="gje" gradientUnits="userSpaceOnUse" x1="352" y1="175" x2="364" y2="186"><stop offset="0" stop-color="#7a7a7d"/><stop offset="0.5" stop-color="#d8d8da"/><stop offset="1" stop-color="#8a8a8d"/></linearGradient>
<path d="M364.3 167 L350.4 179.5 L356.5 186.5 L368.5 179.5 Z" fill="url(#gje)" stroke="#606062" stroke-width="1"/>
<line x1="364.3" y1="167" x2="365" y2="181" stroke="#666" stroke-width="0.8"/>
<circle cx="465.3" cy="291.5" r="10.2" fill="#fafafa" stroke="#666" stroke-width="0.9"/>
<circle cx="465.3" cy="291.5" r="7.3" fill="#c2c2c5" stroke="#606062" stroke-width="1"/>
<circle cx="465.3" cy="291.5" r="2.2" fill="#333"/>
<line x1="465.3" y1="291.5" x2="465.3" y2="298.5" stroke="#333" stroke-width="0.8"/>
<circle cx="502.5" cy="291.5" r="10.2" fill="#fafafa" stroke="#666" stroke-width="0.9"/>
<circle cx="502.5" cy="291.5" r="7.3" fill="#c2c2c5" stroke="#606062" stroke-width="1"/>
<circle cx="502.5" cy="291.5" r="2.2" fill="#333"/>
<line x1="502.5" y1="291.5" x2="502.5" y2="298.5" stroke="#333" stroke-width="0.8"/>
<path d="M131 338.6 L143.5 338.6 L143.5 340.8 L149.5 337 L143.5 333.2 L143.5 335.4 L131 335.4 Z" fill="#e52530"/>
<path d="M175 339.9 L186.5 339.9 L186.5 342.1 L192.5 338.3 L186.5 334.5 L186.5 336.7 L175 336.7 Z" fill="#e52530"/>
<path d="M216.5 333.1 L228.3 329.4 L228.9 331.4 L233.5 326 L226.6 324.2 L227.3 326.2 L215.5 329.9 Z" fill="#e52530"/>
<path d="M249.8 306 L258.9 301.2 L259.9 303.1 L263.5 297 L256.4 296.4 L257.4 298.3 L248.2 303 Z" fill="#e52530"/>
<path d="M281.9 282.4 L290.4 276.9 L291.5 278.7 L294.5 272.2 L287.4 272.3 L288.6 274.1 L280.1 279.6 Z" fill="#e52530"/>
<path d="M311.3 258.9 L318.7 253.8 L319.9 255.5 L322.7 249 L315.6 249.3 L316.8 251.1 L309.5 256.1 Z" fill="#e52530"/>
<path d="M336.5 235 Q343 227.5 350 232.5" fill="none" stroke="#e52530" stroke-width="3.2"/>
<path d="M346.5 232 L353 230 L351.5 236.5 Z" fill="#e52530"/>
<path d="M468 117 L468 103.5 L469.8 103.5 L466 98 L462.2 103.5 L464 103.5 L464 117 Z" fill="#f6ee10"/>
<path d="M468 165 L468 151.5 L469.8 151.5 L466 146 L462.2 151.5 L464 151.5 L464 165 Z" fill="#f6ee10"/>
<path d="M468 250 L468 239.5 L469.8 239.5 L466 234 L462.2 239.5 L464 239.5 L464 250 Z" fill="#f6ee10"/>
<path d="M468 286 L468 275.5 L469.8 275.5 L466 270 L462.2 275.5 L464 275.5 L464 286 Z" fill="#f6ee10"/>
<path d="M424.3 221.5 L416.5 215 L417.7 213.6 L411 213 L412.8 219.4 L413.9 218.1 L421.7 224.5 Z" fill="#f6ee10"/>
<path d="M453.3 245 L445.5 238.5 L446.7 237.1 L440 236.5 L441.8 242.9 L442.9 241.6 L450.7 248 Z" fill="#f6ee10"/>
<path d="M497.3 289.5 L489.5 283 L490.7 281.6 L484 281 L485.8 287.4 L486.9 286.1 L494.7 292.5 Z" fill="#f6ee10"/>
<path d="M376.8 180.5 L373.5 177.6 L374.6 176.2 L368 175.5 L369.7 182 L370.8 180.6 L374.2 183.5 Z" fill="#f6ee10"/>
<path d="M355.7 182.3 L353.5 183.8 L352.5 182.3 L350 188.5 L356.7 188.6 L355.7 187.1 L357.9 185.7 Z" fill="#f6ee10"/>
<path d="M402.4 196 L411.5 196 L411.5 197.8 L417 194 L411.5 190.2 L411.5 192 L402.4 192 Z" fill="#f6ee10"/>
<path d="M459 196 L469 196 L469 197.8 L474.5 194 L469 190.2 L469 192 L459 192 Z" fill="#f6ee10"/>
<path d="M496.7 199.3 L505.8 199.3 L505.8 201.1 L511.3 197.3 L505.8 193.5 L505.8 195.3 L496.7 195.3 Z" fill="#f6ee10"/>
<path d="M552.8 190.5 L560.7 188.7 L561.1 190.4 L565.6 185.5 L559.4 183 L559.8 184.8 L552 186.5 Z" fill="#f6ee10"/>
<path d="M402.3 228 L402.3 238 L400.5 238 L404.3 243.5 L408.1 238 L406.3 238 L406.3 228 Z" fill="#f6ee10"/>
<path d="M412.8 245.2 L422.5 245.2 L422.5 247 L428 243.2 L422.5 239.4 L422.5 241.2 L412.8 241.2 Z" fill="#f6ee10"/>
<path d="M486.4 232 L486.4 238.5 L484.6 238.5 L488.4 244 L492.2 238.5 L490.4 238.5 L490.4 232 Z" fill="#f6ee10"/>
<path d="M521.3 222.5 L521.3 232.5 L519.5 232.5 L523.3 238 L527.1 232.5 L525.3 232.5 L525.3 222.5 Z" fill="#f6ee10"/>
<path d="M551.6 216.4 L551.6 225.5 L549.8 225.5 L553.6 231 L557.4 225.5 L555.6 225.5 L555.6 216.4 Z" fill="#f6ee10"/>
<path d="M478 250.7 L478 259 L476.2 259 L480 264.5 L483.8 259 L482 259 L482 250.7 Z" fill="#f6ee10"/>
<path d="M512 245.3 L512 253.5 L510.2 253.5 L514 259 L517.8 253.5 L516 253.5 L516 245.3 Z" fill="#f6ee10"/>
<path d="M463.3 236 L463.3 244.5 L461.5 244.5 L465.3 250 L469.1 244.5 L467.3 244.5 L467.3 236 Z" fill="#f6ee10"/>
<path d="M507.2 263.2 L504.9 268.2 L503.3 267.4 L504.5 274 L510.2 270.5 L508.6 269.8 L510.8 264.8 Z" fill="#f6ee10"/>
<path d="M515.2 275.2 L512.5 281.2 L510.8 280.4 L512 287 L517.7 283.6 L516.1 282.8 L518.8 276.8 Z" fill="#f6ee10"/>
<path d="M477.1 279.3 L475.4 284.1 L473.7 283.6 L475.5 290 L480.9 286.1 L479.2 285.5 L480.9 280.7 Z" fill="#f6ee10"/>
<path d="M488 250.7 L497.5 250.7 L497.5 252.5 L503 248.7 L497.5 244.9 L497.5 246.7 L488 246.7 Z" fill="#f6ee10"/>
<path d="M525.4 246 L533.7 245.4 L533.8 247.2 L539 243 L533.2 239.6 L533.4 241.4 L525.2 242 Z" fill="#f6ee10"/>
<path d="M525.2 257.3 L534.7 256.5 L534.8 258.3 L540 254 L534.2 250.7 L534.3 252.5 L524.8 253.3 Z" fill="#f6ee10"/>
<path d="M546.3 249 L554.8 247.8 L555.1 249.5 L560 245 L554 242 L554.3 243.8 L545.7 245 Z" fill="#f6ee10"/>
<path d="M563.3 242 L571.8 240.8 L572.1 242.5 L577 238 L571 235 L571.3 236.8 L562.7 238 Z" fill="#f6ee10"/>
<path d="M582.3 246 L588.9 244.9 L589.2 246.7 L594 242 L588 239.2 L588.2 240.9 L581.7 242 Z" fill="#f6ee10"/>
<path d="M588 209.5 L588 218.5 L586.2 218.5 L590 224 L593.8 218.5 L592 218.5 L592 209.5 Z" fill="#f6ee10"/>
<path d="M487.1 264.5 L495.6 264.2 L495.6 266 L501 262 L495.4 258.4 L495.4 260.2 L486.9 260.5 Z" fill="#f6ee10"/>
<path d="M459 200.4 L471 200.4 L471 202 L476 198.8 L471 195.6 L471 197.2 L459 197.2 Z" fill="#f08a28"/>
<path d="M498 204.8 L509.3 204.8 L509.3 206.4 L514.3 203.2 L509.3 200 L509.3 201.6 L498 201.6 Z" fill="#f08a28"/>
<path d="M554.1 195.1 L565.2 193.9 L565.4 195.5 L570 191.8 L564.7 189.1 L564.9 190.7 L553.7 191.9 Z" fill="#f08a28"/>
<path d="M608.9 188.5 L619.9 184.4 L620.4 185.9 L624 181.2 L618.2 179.9 L618.8 181.4 L607.7 185.5 Z" fill="#f08a28"/>
<path d="M657.6 180 L668.5 183.2 L668 184.7 L673.7 183 L669.8 178.5 L669.3 180.1 L658.4 177 Z" fill="#f08a28"/>
<path d="M678.9 197.8 L685.5 204.6 L684.4 205.7 L690.2 207 L689 201.2 L687.8 202.3 L681.1 195.6 Z" fill="#f08a28"/>
<path d="M693.1 217.4 L699.4 225.8 L698.1 226.7 L703.7 228.8 L703.3 222.9 L702 223.8 L695.7 215.4 Z" fill="#f08a28"/>
<path d="M402.4 202.2 L413.4 202.2 L413.4 203.8 L418.4 200.6 L413.4 197.4 L413.4 199 L402.4 199 Z" fill="#f08a28"/>
<path d="M488.1 262.6 L498.1 261.9 L498.2 263.5 L503 260 L497.8 257.1 L497.9 258.7 L487.9 259.4 Z" fill="#f08a28"/>
<path d="M415 221.2 L418.2 224 L417.1 225.2 L423 226 L421.3 220.3 L420.2 221.5 L417 218.8 Z" fill="#f08a28"/>
<path d="M443.9 241.2 L447.2 244.3 L446.2 245.4 L452 246.5 L450.5 240.8 L449.4 241.9 L446.1 238.8 Z" fill="#f08a28"/>
<path d="M487.9 285.2 L491.2 288.3 L490.2 289.4 L496 290.5 L494.5 284.8 L493.4 285.9 L490.1 282.8 Z" fill="#f08a28"/>
<path d="M354.3 182.3 L356.9 180.6 L357.8 181.9 L360.2 176.5 L354.3 176.6 L355.1 177.9 L352.5 179.7 Z" fill="#f08a28"/>
<path d="M497.6 232.7 L497.6 236.3 L496.7 236.3 L498.7 239.3 L500.7 236.3 L499.8 236.3 L499.8 232.7 Z" fill="#f08a28"/>
<path d="M512.9 228 L512.9 232.3 L512 232.3 L514 235.3 L516 232.3 L515.1 232.3 L515.1 228 Z" fill="#f08a28"/>
<path d="M530.9 225.3 L530.9 228.3 L530 228.3 L532 231.3 L534 228.3 L533.1 228.3 L533.1 225.3 Z" fill="#f08a28"/>
<path d="M544.5 222 L544.5 224.6 L543.6 224.6 L545.6 227.6 L547.6 224.6 L546.7 224.6 L546.7 222 Z" fill="#f08a28"/>
<path d="M522.8 271.8 L526.4 271.5 L526.5 272.4 L529.3 270.2 L526.2 268.4 L526.2 269.3 L522.6 269.6 Z" fill="#f08a28"/>
<path d="M609.9 245 L609.9 249 L609 249 L611 252 L613 249 L612.1 249 L612.1 245 Z" fill="#f08a28"/>
<path d="M614.4 244 L614.4 248 L613.5 248 L615.5 251 L617.5 248 L616.6 248 L616.6 244 Z" fill="#f08a28"/>
<path d="M618.9 243 L618.9 247 L618 247 L620 250 L622 247 L621.1 247 L621.1 243 Z" fill="#f08a28"/>
<path d="M605.1 236.7 L607.3 239.3 L606.6 239.9 L610 241 L609.7 237.4 L609 238 L606.9 235.3 Z" fill="#f08a28"/>
<path d="M575.9 227 L575.9 230 L575 230 L577 233 L579 230 L578.1 230 L578.1 227 Z" fill="#f08a28"/>
<path d="M594.9 231 L594.9 234 L594 234 L596 237 L598 234 L597.1 234 L597.1 231 Z" fill="#f08a28"/>
<path d="M496.5 233 L496.5 236 L495.6 236 L497.6 239 L499.6 236 L498.7 236 L498.7 233 Z" fill="#f08a28"/>
<path d="M472.9 247 L472.9 250 L472 250 L474 253 L476 250 L475.1 250 L475.1 247 Z" fill="#f08a28"/>
<path d="M560.2 253.1 L563.2 252.6 L563.4 253.5 L566 251 L562.7 249.5 L562.9 250.4 L559.8 250.9 Z" fill="#f08a28"/>
<path d="M536.2 263.1 L539.2 262.6 L539.4 263.5 L542 261 L538.7 259.5 L538.9 260.4 L535.8 260.9 Z" fill="#f08a28"/>
<path d="M590.2 248.1 L593.2 247.6 L593.4 248.5 L596 246 L592.7 244.5 L592.9 245.4 L589.8 245.9 Z" fill="#f08a28"/>
<path d="M505.2 277.1 L508.2 276.6 L508.4 277.5 L511 275 L507.7 273.5 L507.9 274.4 L504.8 274.9 Z" fill="#f08a28"/>
<path d="M548.2 266.1 L551.2 265.6 L551.4 266.5 L554 264 L550.7 262.5 L550.9 263.4 L547.8 263.9 Z" fill="#f08a28"/>
<path d="M562.9 216 L562.9 221 L562 221 L564 224 L566 221 L565.1 221 L565.1 216 Z" fill="#f08a28"/>
<path d="M577.9 213 L577.9 218 L577 218 L579 221 L581 218 L580.1 218 L580.1 213 Z" fill="#f08a28"/>
<path d="M540.1 267.1 L543.1 266.8 L543.2 267.7 L546 265.5 L542.8 263.8 L542.9 264.7 L539.9 264.9 Z" fill="#f08a28"/>
<path d="M524.1 272.1 L527.1 271.8 L527.2 272.7 L530 270.5 L526.8 268.8 L526.9 269.7 L523.9 269.9 Z" fill="#f08a28"/>
<line x1="393" y1="255.3" x2="398" y2="255" stroke="#2aa6de" stroke-width="2.3" stroke-linecap="round"/>
<line x1="429" y1="254" x2="434" y2="253.7" stroke="#2aa6de" stroke-width="2.3" stroke-linecap="round"/>
<line x1="397" y1="267" x2="400" y2="271" stroke="#2aa6de" stroke-width="2.3" stroke-linecap="round"/>
<line x1="431.7" y1="272" x2="436" y2="271.5" stroke="#2aa6de" stroke-width="2.3" stroke-linecap="round"/>
<line x1="439.7" y1="279.3" x2="444" y2="278.5" stroke="#2aa6de" stroke-width="2.3" stroke-linecap="round"/>
<line x1="407.7" y1="280" x2="412" y2="279.4" stroke="#2aa6de" stroke-width="2.3" stroke-linecap="round"/>
<line x1="419.7" y1="283.3" x2="424" y2="282.6" stroke="#2aa6de" stroke-width="2.3" stroke-linecap="round"/>
<line x1="398.3" y1="287.3" x2="402.3" y2="286.8" stroke="#2aa6de" stroke-width="2.3" stroke-linecap="round"/>
<line x1="451.7" y1="285.3" x2="456" y2="284.5" stroke="#2aa6de" stroke-width="2.3" stroke-linecap="round"/>
<line x1="536" y1="234" x2="541" y2="232.5" stroke="#2aa6de" stroke-width="2.3" stroke-linecap="round"/>
<line x1="493.3" y1="256" x2="497.5" y2="255" stroke="#2aa6de" stroke-width="2.3" stroke-linecap="round"/>
<line x1="509.3" y1="253.3" x2="512" y2="249.5" stroke="#2aa6de" stroke-width="2.3" stroke-linecap="round"/>
<line x1="528" y1="249.3" x2="531" y2="245.5" stroke="#2aa6de" stroke-width="2.3" stroke-linecap="round"/>
<line x1="466.7" y1="262.7" x2="469" y2="258.7" stroke="#2aa6de" stroke-width="2.3" stroke-linecap="round"/>
<line x1="500" y1="265.3" x2="503" y2="261.5" stroke="#2aa6de" stroke-width="2.3" stroke-linecap="round"/>
<line x1="512" y1="265.3" x2="514.5" y2="261.5" stroke="#2aa6de" stroke-width="2.3" stroke-linecap="round"/>
<line x1="532" y1="261.3" x2="534.5" y2="257.5" stroke="#2aa6de" stroke-width="2.3" stroke-linecap="round"/>
<line x1="493.3" y1="274" x2="497.5" y2="273" stroke="#2aa6de" stroke-width="2.3" stroke-linecap="round"/>
<line x1="478.7" y1="277.3" x2="483" y2="276.3" stroke="#2aa6de" stroke-width="2.3" stroke-linecap="round"/>
<line x1="442.7" y1="280" x2="447" y2="279" stroke="#2aa6de" stroke-width="2.3" stroke-linecap="round"/>
<line x1="452" y1="285.3" x2="456.5" y2="285" stroke="#2aa6de" stroke-width="2.3" stroke-linecap="round"/>
<line x1="531.2" y1="235.6" x2="537.6" y2="235" stroke="#2aa6de" stroke-width="2.3" stroke-linecap="round"/>
<line x1="547" y1="235.6" x2="553.6" y2="234.8" stroke="#2aa6de" stroke-width="2.3" stroke-linecap="round"/>
<line x1="560" y1="232" x2="566" y2="231" stroke="#2aa6de" stroke-width="2.3" stroke-linecap="round"/>
<line x1="575" y1="240" x2="580" y2="239" stroke="#2aa6de" stroke-width="2.3" stroke-linecap="round"/>
<line x1="555" y1="245" x2="560" y2="244" stroke="#2aa6de" stroke-width="2.3" stroke-linecap="round"/>
<line x1="572" y1="250" x2="577" y2="249" stroke="#2aa6de" stroke-width="2.3" stroke-linecap="round"/>
<line x1="410" y1="265" x2="414" y2="264" stroke="#2aa6de" stroke-width="2.3" stroke-linecap="round"/>
<line x1="383" y1="283" x2="386" y2="286" stroke="#2aa6de" stroke-width="2.3" stroke-linecap="round"/>
<line x1="370" y1="273" x2="373" y2="276" stroke="#2aa6de" stroke-width="2.3" stroke-linecap="round"/>
<line x1="570" y1="226.5" x2="575" y2="225.5" stroke="#2aa6de" stroke-width="2.3" stroke-linecap="round"/>
<line x1="592" y1="229.5" x2="597" y2="230" stroke="#2aa6de" stroke-width="2.3" stroke-linecap="round"/>
<line x1="564" y1="247" x2="567" y2="243.5" stroke="#2aa6de" stroke-width="2.3" stroke-linecap="round"/>
<line x1="546.5" y1="249" x2="549.5" y2="245.5" stroke="#2aa6de" stroke-width="2.3" stroke-linecap="round"/>
<line x1="508" y1="253.5" x2="512.5" y2="252.5" stroke="#2aa6de" stroke-width="2.3" stroke-linecap="round"/>
<line x1="492" y1="255.5" x2="496.5" y2="254.5" stroke="#2aa6de" stroke-width="2.3" stroke-linecap="round"/>
<line x1="528" y1="261.5" x2="532" y2="260.5" stroke="#2aa6de" stroke-width="2.3" stroke-linecap="round"/>
<line x1="512" y1="264.5" x2="516" y2="263.5" stroke="#2aa6de" stroke-width="2.3" stroke-linecap="round"/>
<line x1="498" y1="266.5" x2="502" y2="265.5" stroke="#2aa6de" stroke-width="2.3" stroke-linecap="round"/>
<line x1="476" y1="276.5" x2="480.5" y2="275.5" stroke="#2aa6de" stroke-width="2.3" stroke-linecap="round"/>
<path d="M408.7 253 L408.7 249 L409.7 249 L407.7 246 L405.7 249 L406.7 249 L406.7 253 Z" fill="#2aa6de"/>
<g class="tx">
<path d="M400.5 11.5 L418 50" fill="none" stroke="#858585" stroke-width="0.75"/>
<path d="M523 7.5 L474 62" fill="none" stroke="#858585" stroke-width="0.75"/>
<path d="M175 90.5 L156 76" fill="none" stroke="#858585" stroke-width="0.75"/>
<path d="M241 147 L381 172.5" fill="none" stroke="#8a8a8a" stroke-width="0.75" stroke-dasharray="2.2 1.4"/>
<path d="M249 182.5 L345 207.5" fill="none" stroke="#8a8a8a" stroke-width="0.75" stroke-dasharray="2.2 1.4"/>
<path d="M236 210.3 L272 240" fill="none" stroke="#858585" stroke-width="0.75"/>
<path d="M272.5 216.3 L316.5 221.5" fill="none" stroke="#8a8a8a" stroke-width="0.75" stroke-dasharray="2.2 1.4"/>
<path d="M93 227.6 L97.5 236" fill="none" stroke="#858585" stroke-width="0.75"/>
<path d="M36 296.4 L47 308" fill="none" stroke="#858585" stroke-width="0.75"/>
<path d="M158.5 355 L165 351.5" fill="none" stroke="#858585" stroke-width="0.75"/>
<path d="M246.4 349.6 L228.5 320.5" fill="none" stroke="#858585" stroke-width="0.75"/>
<path d="M314.5 337.5 L373 252" fill="none" stroke="#858585" stroke-width="0.75"/>
<path d="M368 366 L385 291" fill="none" stroke="#858585" stroke-width="0.75"/>
<path d="M459 368 L417 258" fill="none" stroke="#858585" stroke-width="0.75"/>
<path d="M530 366 L461 258" fill="none" stroke="#858585" stroke-width="0.75"/>
<path d="M643.5 268 L543 221" fill="none" stroke="#858585" stroke-width="0.75"/>
<path d="M643.5 284 L577 253" fill="none" stroke="#858585" stroke-width="0.75"/>
<path d="M643.5 305 L551 265" fill="none" stroke="#858585" stroke-width="0.75"/>
<path d="M722 242 L711 227" fill="none" stroke="#858585" stroke-width="0.75"/>
<path d="M423.5 57.5 L416.1 51.6 L423.8 48 Z" fill="#111"/>
<path d="M475 69.5 L465.9 72.2 L467.4 63.8 Z" fill="#111"/>
<path d="M150.5 71.5 L159.9 72.9 L155 79.9 Z" fill="#111"/>
<path d="M388.5 174 L379.8 176.2 L381.5 168.4 Z" fill="#111"/>
<path d="M352 208 L343.2 209.3 L345.6 201.7 Z" fill="#111"/>
<path d="M279.5 249 L270.9 243.8 L278.5 239 Z" fill="#111"/>
<path d="M323.5 222.5 L315.6 225.4 L316.4 218 Z" fill="#111"/>
<path d="M100.5 243 L92.8 237.5 L100.3 233.5 Z" fill="#111"/>
<path d="M53.5 314.5 L44.7 311 L51 305.3 Z" fill="#111"/>
<path d="M223.5 315 L231.1 319.7 L224.3 323.9 Z" fill="#111"/>
<path d="M373 246 L376.2 252.5 L369.8 252.5 Z" fill="#111"/>
<path d="M386 283 L391 289.7 L383.6 291 Z" fill="#111"/>
<path d="M416.5 251 L421.5 257.7 L414.1 259 Z" fill="#111"/>
<path d="M461.5 256.5 L453.5 260.5 L453.5 252.5 Z" fill="#111"/>
<path d="M542.5 221.8 L538.8 214.3 L546.2 214.3 Z" fill="#111"/>
<path d="M576.8 254 L573 246.5 L580.5 246.5 Z" fill="#111"/>
<path d="M551 266 L547.2 258.5 L554.8 258.5 Z" fill="#111"/>
<path d="M712.7 224.5 L705.6 228.9 L704.9 221.4 Z" fill="#111"/>
<path d="M163.3 350 L172.3 347.3 L170 355.5 Z" fill="#111"/>
<text x="389.2" y="10.0" font-size="20" fill="#262626" stroke="#262626" stroke-width="0.3">p</text>
<text x="523.8" y="10.2" font-size="20" fill="#262626" stroke="#262626" stroke-width="0.3">o</text>
<text x="178.3" y="98.4" font-size="20" fill="#262626" stroke="#262626" stroke-width="0.3">q</text>
<text x="230.8" y="150.8" font-size="20" fill="#262626" stroke="#262626" stroke-width="0.3">r</text>
<text x="239.9" y="187.5" font-size="20" fill="#262626" stroke="#262626" stroke-width="0.3">s</text>
<text x="226.8" y="212.3" font-size="20" fill="#262626" stroke="#262626" stroke-width="0.3">e</text>
<text x="265.2" y="225.2" font-size="20" fill="#262626" stroke="#262626" stroke-width="0.3">f</text>
<text x="83.0" y="224.2" font-size="20" fill="#262626" stroke="#262626" stroke-width="0.3">b</text>
<text x="26.0" y="294.0" font-size="20" fill="#262626" stroke="#262626" stroke-width="0.3">a</text>
<text x="151.4" y="363.0" font-size="20" fill="#262626" stroke="#262626" stroke-width="0.3">c</text>
<text x="247.6" y="358.7" font-size="20" fill="#262626" stroke="#262626" stroke-width="0.3">d</text>
<text x="305.4" y="348.0" font-size="20" fill="#262626" stroke="#262626" stroke-width="0.3">g</text>
<text x="360.3" y="380.0" font-size="20" fill="#262626" stroke="#262626" stroke-width="0.3">h</text>
<text x="456.1" y="381.0" font-size="20" fill="#262626" stroke="#262626" stroke-width="0.3">i</text>
<text x="526.5" y="377.5" font-size="20" fill="#262626" stroke="#262626" stroke-width="0.3">j</text>
<text x="642.1" y="317.0" font-size="20" fill="#262626" stroke="#262626" stroke-width="0.3">k</text>
<text x="644.1" y="295.4" font-size="20" fill="#262626" stroke="#262626" stroke-width="0.3">l</text>
<text x="642.6" y="278.0" font-size="20" fill="#262626" stroke="#262626" stroke-width="0.3">m</text>
<text x="721.9" y="252.0" font-size="20" fill="#262626" stroke="#262626" stroke-width="0.3">n</text>
<path d="M98 397.3 L111.5 397.3 L111.5 398.8 L117.5 396 L111.5 393.2 L111.5 394.7 L98 394.7 Z" fill="#e52530"/>
<text x="118.0" y="402.6" font-size="21" textLength="80.1" lengthAdjust="spacingAndGlyphs" fill="#262626" stroke="#262626" stroke-width="0.3">Crop flow</text>
<path d="M218 397.4 L230.5 397.4 L230.5 399 L236.5 396 L230.5 393 L230.5 394.6 L218 394.6 Z" fill="#f6ee10"/>
<text x="240.0" y="402.6" font-size="21" textLength="85.0" lengthAdjust="spacingAndGlyphs" fill="#262626" stroke="#262626" stroke-width="0.3">Grain flow</text>
<path d="M355 397.3 L367.5 397.3 L367.5 398.8 L373.5 396 L367.5 393.2 L367.5 394.7 L355 394.7 Z" fill="#f08a28"/>
<text x="375.7" y="402.6" font-size="21" textLength="87.5" lengthAdjust="spacingAndGlyphs" fill="#262626" stroke="#262626" stroke-width="0.3">Straw flow</text>
<line x1="481.5" y1="395.8" x2="488.5" y2="395.8" stroke="#f08a28" stroke-width="2.2" stroke-linecap="round"/>
<text x="493.0" y="402.6" font-size="21" textLength="84.4" lengthAdjust="spacingAndGlyphs" fill="#262626" stroke="#262626" stroke-width="0.3">Chaff flow</text>
<line x1="597.8" y1="395.8" x2="602.5" y2="395.8" stroke="#2aa6de" stroke-width="2.2" stroke-linecap="round"/>
<text x="609.6" y="402.6" font-size="21" textLength="64.3" lengthAdjust="spacingAndGlyphs" fill="#262626" stroke="#262626" stroke-width="0.3">Air flow</text>
<text x="1.2" y="434.5" font-size="19.5" fill="#262626" stroke="#262626" stroke-width="0.3">a</text>
<line x1="16" y1="429.3" x2="21.3" y2="429.3" stroke="#2a2a2a" stroke-width="1.4"/>
<text x="28.7" y="434.5" font-size="19.5" textLength="61.9" lengthAdjust="spacingAndGlyphs" fill="#262626" stroke="#262626" stroke-width="0.3">Divider</text>
<text x="0.6" y="458.9" font-size="19.5" fill="#262626" stroke="#262626" stroke-width="0.3">b</text>
<line x1="17" y1="453.7" x2="22" y2="453.7" stroke="#2a2a2a" stroke-width="1.4"/>
<text x="30.0" y="458.9" font-size="19.5" textLength="33.0" lengthAdjust="spacingAndGlyphs" fill="#262626" stroke="#262626" stroke-width="0.3">Reel</text>
<text x="1.2" y="481.5" font-size="19.5" fill="#262626" stroke="#262626" stroke-width="0.3">c</text>
<line x1="14.5" y1="476.3" x2="19.5" y2="476.3" stroke="#2a2a2a" stroke-width="1.4"/>
<text x="26.7" y="481.5" font-size="19.5" textLength="81.2" lengthAdjust="spacingAndGlyphs" fill="#262626" stroke="#262626" stroke-width="0.3">Cutter bar</text>
<text x="0.8" y="503.2" font-size="19.5" fill="#262626" stroke="#262626" stroke-width="0.3">d</text>
<line x1="16" y1="498.0" x2="21" y2="498.0" stroke="#2a2a2a" stroke-width="1.4"/>
<text x="28.7" y="503.2" font-size="19.5" textLength="48.6" lengthAdjust="spacingAndGlyphs" fill="#262626" stroke="#262626" stroke-width="0.3">Auger</text>
<text x="1.2" y="524.7" font-size="19.5" fill="#262626" stroke="#262626" stroke-width="0.3">e</text>
<line x1="14.5" y1="519.5" x2="19.5" y2="519.5" stroke="#2a2a2a" stroke-width="1.4"/>
<text x="26.7" y="524.7" font-size="19.5" textLength="142.3" lengthAdjust="spacingAndGlyphs" fill="#262626" stroke="#262626" stroke-width="0.3">Feeding conveyor</text>
<text x="189.8" y="434.5" font-size="19.5" fill="#262626" stroke="#262626" stroke-width="0.3">f</text>
<line x1="199.5" y1="429.3" x2="204.5" y2="429.3" stroke="#2a2a2a" stroke-width="1.4"/>
<text x="216.5" y="434.5" font-size="19.5" textLength="116.6" lengthAdjust="spacingAndGlyphs" fill="#262626" stroke="#262626" stroke-width="0.3">Feeding beater</text>
<text x="189.3" y="458.9" font-size="19.5" fill="#262626" stroke="#262626" stroke-width="0.3">g</text>
<line x1="206" y1="449.4" x2="211" y2="449.4" stroke="#333" stroke-width="1.3"/>
<text x="217.0" y="458.9" font-size="19.5" textLength="113.3" lengthAdjust="spacingAndGlyphs" fill="#262626" stroke="#262626" stroke-width="0.3">Concave plate</text>
<text x="190.8" y="481.5" font-size="19.5" fill="#262626" stroke="#262626" stroke-width="0.3">h</text>
<line x1="207" y1="476.3" x2="212" y2="476.3" stroke="#2a2a2a" stroke-width="1.4"/>
<text x="217.0" y="481.5" font-size="19.5" textLength="57.4" lengthAdjust="spacingAndGlyphs" fill="#262626" stroke="#262626" stroke-width="0.3">Blower</text>
<text x="189.9" y="503.2" font-size="19.5" fill="#262626" stroke="#262626" stroke-width="0.3">i</text>
<line x1="206" y1="493.7" x2="211" y2="493.7" stroke="#333" stroke-width="1.3"/>
<text x="217.0" y="503.2" font-size="19.5" textLength="79.5" lengthAdjust="spacingAndGlyphs" fill="#262626" stroke="#262626" stroke-width="0.3">Grain pan</text>
<text x="190.3" y="524.7" font-size="19.5" fill="#262626" stroke="#262626" stroke-width="0.3">j</text>
<line x1="205.5" y1="515.2" x2="210.5" y2="515.2" stroke="#333" stroke-width="1.3"/>
<text x="216.5" y="524.7" font-size="19.5" textLength="123.2" lengthAdjust="spacingAndGlyphs" fill="#262626" stroke="#262626" stroke-width="0.3">Return elevator</text>
<text x="386.5" y="434.5" font-size="19.5" fill="#262626" stroke="#262626" stroke-width="0.3">k</text>
<line x1="402" y1="429.3" x2="407" y2="429.3" stroke="#2a2a2a" stroke-width="1.4"/>
<text x="412.0" y="434.5" font-size="19.5" textLength="102.6" lengthAdjust="spacingAndGlyphs" fill="#262626" stroke="#262626" stroke-width="0.3">Bottom sieve</text>
<text x="387.0" y="458.9" font-size="19.5" fill="#262626" stroke="#262626" stroke-width="0.3">l</text>
<line x1="399" y1="453.7" x2="404" y2="453.7" stroke="#2a2a2a" stroke-width="1.4"/>
<text x="411.5" y="458.9" font-size="19.5" textLength="75.6" lengthAdjust="spacingAndGlyphs" fill="#262626" stroke="#262626" stroke-width="0.3">Top sieve</text>
<text x="385.6" y="481.5" font-size="19.5" fill="#262626" stroke="#262626" stroke-width="0.3">m</text>
<line x1="405" y1="476.3" x2="409.5" y2="476.3" stroke="#2a2a2a" stroke-width="1.4"/>
<text x="412.5" y="481.5" font-size="19.5" textLength="105.7" lengthAdjust="spacingAndGlyphs" fill="#262626" stroke="#262626" stroke-width="0.3">Straw shaker</text>
<text x="385.8" y="503.2" font-size="19.5" fill="#262626" stroke="#262626" stroke-width="0.3">n</text>
<line x1="402" y1="498.0" x2="407" y2="498.0" stroke="#2a2a2a" stroke-width="1.4"/>
<text x="412.0" y="503.2" font-size="19.5" textLength="98.1" lengthAdjust="spacingAndGlyphs" fill="#262626" stroke="#262626" stroke-width="0.3">Straw outlet</text>
<text x="385.3" y="524.7" font-size="19.5" fill="#262626" stroke="#262626" stroke-width="0.3">o</text>
<line x1="400" y1="519.5" x2="405" y2="519.5" stroke="#2a2a2a" stroke-width="1.4"/>
<text x="409.9" y="524.7" font-size="19.5" textLength="115.3" lengthAdjust="spacingAndGlyphs" fill="#262626" stroke="#262626" stroke-width="0.3">Grain elevator</text>
<text x="573.5" y="434.5" font-size="19.5" fill="#262626" stroke="#262626" stroke-width="0.3">P</text>
<line x1="589.5" y1="423.5" x2="593.5" y2="423.5" stroke="#333" stroke-width="1.3"/>
<text x="600.0" y="434.5" font-size="19.5" textLength="86.2" lengthAdjust="spacingAndGlyphs" fill="#262626" stroke="#262626" stroke-width="0.3">Grain tank</text>
<text x="573.3" y="455.4" font-size="19.5" fill="#262626" stroke="#262626" stroke-width="0.3">q</text>
<line x1="589.5" y1="449.4" x2="593.5" y2="449.4" stroke="#333" stroke-width="1.3"/>
<text x="600.0" y="458.9" font-size="19.5" textLength="96.7" lengthAdjust="spacingAndGlyphs" fill="#262626" stroke="#262626" stroke-width="0.3">Grain outlet</text>
<text x="574.9" y="481.5" font-size="19.5" fill="#262626" stroke="#262626" stroke-width="0.3">r</text>
<line x1="588" y1="476.3" x2="593" y2="476.3" stroke="#2a2a2a" stroke-width="1.4"/>
<text x="599.3" y="481.5" font-size="19.5" textLength="119.9" lengthAdjust="spacingAndGlyphs" fill="#262626" stroke="#262626" stroke-width="0.3">Stripper beater</text>
<text x="574.3" y="503.2" font-size="19.5" fill="#262626" stroke="#262626" stroke-width="0.3">s</text>
<line x1="588" y1="498.0" x2="593" y2="498.0" stroke="#2a2a2a" stroke-width="1.4"/>
<text x="599.3" y="503.2" font-size="19.5" textLength="152.7" lengthAdjust="spacingAndGlyphs" fill="#262626" stroke="#262626" stroke-width="0.3">Threshing cylinder</text>
</g>
</g>
</svg>
</body></html>
